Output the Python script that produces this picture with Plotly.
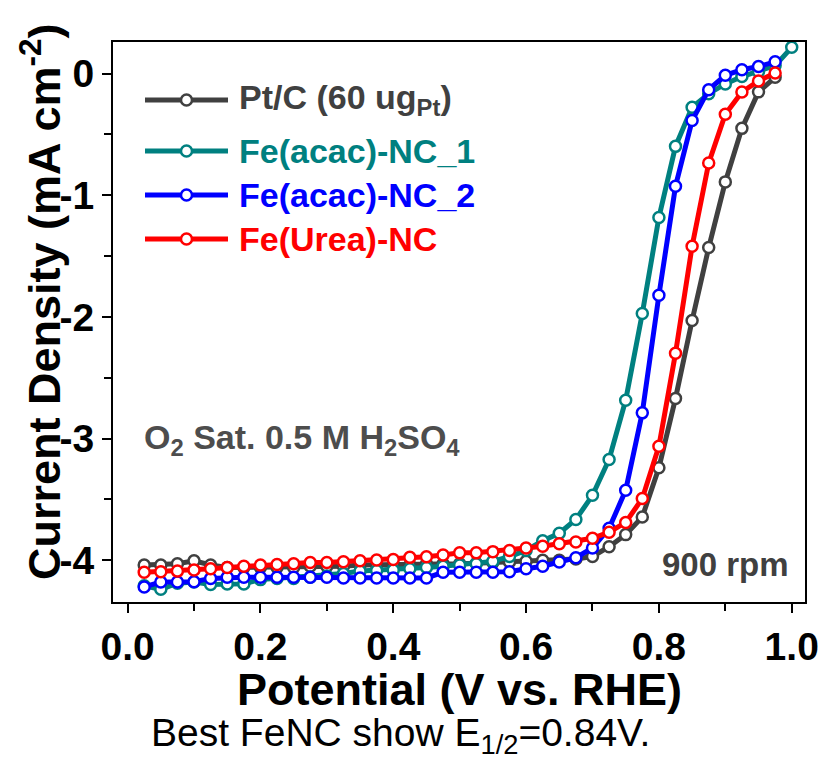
import plotly.graph_objects as go

# Potential sampling (V vs. RHE)
potential = [0.025, 0.05, 0.075, 0.1, 0.125, 0.15, 0.175, 0.2, 0.225, 0.25,
             0.275, 0.3, 0.325, 0.35, 0.375, 0.4, 0.425, 0.45, 0.475, 0.5,
             0.525, 0.55, 0.575, 0.6, 0.625, 0.65, 0.675, 0.7, 0.725, 0.75,
             0.775, 0.8, 0.825, 0.85, 0.875, 0.9, 0.925, 0.95, 0.975, 1.0]

# Current density (mA cm^-2) for each catalyst
pt_c = [-4.04, -4.04, -4.03, -4.005, -4.04, -4.06, -4.06, -4.06, -4.06, -4.06,
        -4.05, -4.05, -4.05, -4.04, -4.04, -4.04, -4.04, -4.03, -4.03, -4.03,
        -4.025, -4.02, -4.015, -4.01, -4.0, -4.0, -3.99, -3.97, -3.89, -3.79,
        -3.645, -3.24, -2.67, -2.03, -1.43, -0.89, -0.45, -0.15, -0.03]

fe_acac_1 = [-4.21, -4.24, -4.19, -4.18, -4.20, -4.195, -4.195, -4.16, -4.15, -4.15,
             -4.14, -4.13, -4.11, -4.09, -4.085, -4.08, -4.07, -4.06, -4.05, -4.04,
             -4.03, -4.01, -3.97, -3.92, -3.84, -3.779, -3.665, -3.467, -3.172, -2.685,
             -1.972, -1.182, -0.598, -0.276, -0.165, -0.085, -0.024, 0.016, 0.066, 0.216]

fe_acac_2 = [-4.22, -4.18, -4.18, -4.177, -4.15, -4.14, -4.14, -4.14, -4.14, -4.14,
             -4.14, -4.14, -4.146, -4.146, -4.146, -4.146, -4.146, -4.146, -4.10, -4.10,
             -4.10, -4.10, -4.095, -4.07, -4.05, -4.015, -3.98, -3.90, -3.738, -3.426,
             -2.789, -1.822, -0.926, -0.386, -0.132, -0.014, 0.032, 0.059, 0.097]

fe_urea = [-4.10, -4.095, -4.09, -4.08, -4.07, -4.06, -4.05, -4.04, -4.035, -4.03,
           -4.02, -4.02, -4.013, -4.005, -3.999, -3.994, -3.977, -3.972, -3.958, -3.94,
           -3.94, -3.93, -3.92, -3.90, -3.885, -3.865, -3.85, -3.82, -3.77, -3.69,
           -3.493, -3.064, -2.299, -1.419, -0.735, -0.334, -0.151, -0.06, 0.005]

series_names = ["Pt/C (60 ug<sub>Pt</sub>)", "Fe(acac)-NC_1", "Fe(acac)-NC_2", "Fe(Urea)-NC"]
series_values = [pt_c, fe_acac_1, fe_acac_2, fe_urea]
series_colors = ["#404040", "#008080", "#0000ff", "#ff0000"]

x_ticks = [0.0, 0.2, 0.4, 0.6, 0.8, 1.0]
x_ticklabels = ["0.0", "0.2", "0.4", "0.6", "0.8", "1.0"]
y_ticks = [0, -1, -2, -3, -4]
y_ticklabels = ["0", "-1", "-2", "-3", "-4"]

FONT = "Arial, Liberation Sans, sans-serif"

fig = go.Figure()
for name, vals, col in zip(series_names, series_values, series_colors):
    fig.add_trace(go.Scatter(
        x=potential[:len(vals)], y=vals, name=name, mode="lines+markers",
        line=dict(color=col, width=5),
        marker=dict(symbol="circle", size=11, color="white",
                    line=dict(color=col, width=2.5)),
        showlegend=False,
    ))

# Plot-area geometry in pixels, used to place legend keys and labels
L, R, T, B = 113, 805, 42, 602
W, H = R - L, B - T


def px(xp):
    return (xp - L) / W


def py(yp):
    return (B - yp) / H


shapes = []
annotations = []

# Legend keys: short line with an open circle, then coloured label
row_y = [100, 151, 195, 239]
for name, col, yy in zip(series_names, series_colors, row_y):
    shapes.append(dict(type="line", xref="paper", yref="paper",
                       x0=px(145), x1=px(228), y0=py(yy), y1=py(yy),
                       line=dict(color=col, width=5)))
    shapes.append(dict(type="circle", xref="paper", yref="paper",
                       x0=px(181), x1=px(192), y0=py(yy + 5.5), y1=py(yy - 5.5),
                       fillcolor="white", line=dict(color=col, width=2.5)))
    annotations.append(dict(text=name, xref="paper", yref="paper",
                            x=px(237), y=py(yy), xanchor="left", yanchor="middle",
                            showarrow=False,
                            font=dict(family=FONT, size=34, color=col, weight="bold")))

# Condition labels inside the axes
annotations.append(dict(text="O<sub>2</sub> Sat. 0.5 M H<sub>2</sub>SO<sub>4</sub>",
                        xref="paper", yref="paper", x=px(142), y=py(440),
                        xanchor="left", yanchor="middle", showarrow=False,
                        font=dict(family=FONT, size=34, color="#4d4d4d", weight="bold")))
annotations.append(dict(text="900 rpm", xref="paper", yref="paper",
                        x=px(791), y=py(564), xanchor="right", yanchor="middle",
                        showarrow=False,
                        font=dict(family=FONT, size=33, color="#404040", weight="bold")))

# Axis titles
annotations.append(dict(text="Potential (V vs. RHE)", xref="paper", yref="paper",
                        x=px(459), y=py(690), xanchor="center", yanchor="middle",
                        showarrow=False,
                        font=dict(family=FONT, size=45, color="black", weight="bold")))
annotations.append(dict(text="Current Density (mA cm<sup>-2</sup>)", xref="paper", yref="paper",
                        x=px(41), y=py(302), xanchor="center", yanchor="middle",
                        textangle=-90, showarrow=False,
                        font=dict(family=FONT, size=45, color="black", weight="bold")))

# Caption below the chart
annotations.append(dict(text="Best FeNC show E<sub>1/2</sub>=0.84V.", xref="paper", yref="paper",
                        x=px(400), y=py(735), xanchor="center", yanchor="middle",
                        showarrow=False,
                        font=dict(family=FONT, size=39, color="black")))

axis_common = dict(showline=True, linecolor="black", linewidth=2, mirror=True,
                   ticks="outside", tickwidth=2, ticklen=9, tickcolor="black",
                   showgrid=False, zeroline=False,
                   tickfont=dict(family=FONT, size=39, color="black", weight="bold"))

fig.update_layout(
    width=825, height=761,
    margin=dict(l=L, r=825 - R, t=T, b=761 - B, autoexpand=False),
    paper_bgcolor="white", plot_bgcolor="white",
    xaxis=dict(range=[-0.022, 1.02], tickvals=x_ticks, ticktext=x_ticklabels,
               minor=dict(dtick=0.1, tick0=0, ticks="outside", ticklen=7,
                          tickwidth=2, tickcolor="black", showgrid=False),
               **axis_common),
    yaxis=dict(range=[-4.344, 0.26], tickvals=y_ticks, ticktext=y_ticklabels,
               minor=dict(dtick=0.5, tick0=0, ticks="outside", ticklen=7,
                          tickwidth=2, tickcolor="black", showgrid=False),
               **axis_common),
    shapes=shapes,
    annotations=annotations,
    showlegend=False,
)

fig.write_html("out.html")
